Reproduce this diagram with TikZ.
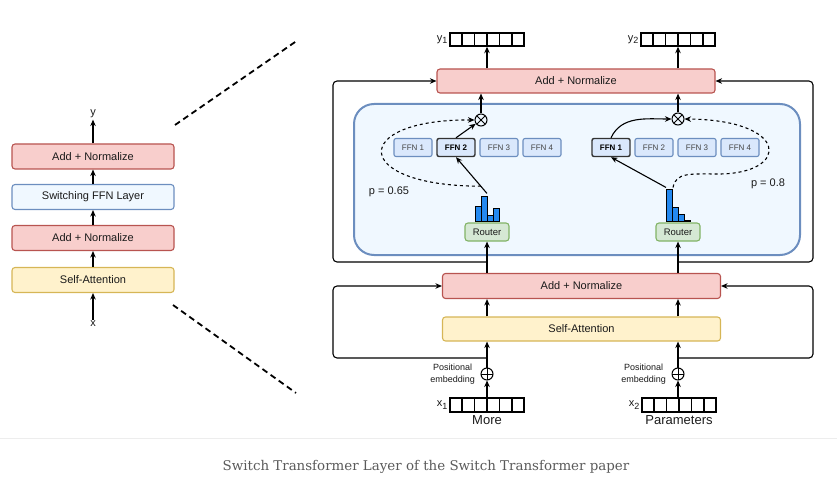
\documentclass[tikz,border=0pt]{standalone}
\usepackage{fontspec}
\setmainfont{Liberation Sans}
\newfontfamily\capfont{DejaVu Serif}
\usetikzlibrary{arrows.meta,positioning,calc}
\definecolor{redfill}{HTML}{F8CECC}
\definecolor{redline}{HTML}{B85450}
\definecolor{yelfill}{HTML}{FFF2CC}
\definecolor{yelline}{HTML}{D6B656}
\definecolor{bluefill}{HTML}{DAE8FC}
\definecolor{blueline}{HTML}{6C8EBF}
\definecolor{lightbg}{HTML}{F0F8FF}
\definecolor{grnfill}{HTML}{D5E8D4}
\definecolor{grnline}{HTML}{82B366}
\definecolor{barblue}{HTML}{2489F0}
\definecolor{txt}{HTML}{1A1A1A}
\definecolor{ffntxt}{HTML}{444444}
\definecolor{selline}{HTML}{333333}
\definecolor{capgray}{HTML}{5A5A5A}

\begin{document}
\begin{tikzpicture}[x=1pt,y=-1pt,>={Stealth[length=6.5pt,width=5.5pt]},line width=1.1pt,
an/.style={draw=redline,fill=redfill,rounded corners=3pt,line width=1.1pt,font=\fontsize{11}{13}\selectfont,text=txt},
sw/.style={draw=blueline,fill=lightbg,rounded corners=3pt,line width=1.1pt,font=\fontsize{11}{13}\selectfont,text=txt},
sa/.style={draw=yelline,fill=yelfill,rounded corners=3pt,line width=1.1pt,font=\fontsize{11}{13}\selectfont,text=txt},
lw/.style={minimum width=162,minimum height=25,inner sep=0},
rw/.style={minimum width=278,minimum height=24,inner sep=0},
ffn/.style={draw=blueline,fill=bluefill,rounded corners=2pt,line width=1.1pt,minimum width=38,minimum height=18,inner sep=0,font=\fontsize{8}{9}\selectfont,text=ffntxt},
sel/.style={ffn,draw=selline,line width=1.4pt,font=\fontsize{8}{9}\selectfont\bfseries,text=black},
rt/.style={draw=grnline,fill=grnfill,rounded corners=3pt,line width=1.1pt,minimum width=44,minimum height=18,inner sep=0,font=\fontsize{9.5}{11}\selectfont,text=txt},
vec/.style={draw,line width=1.4pt,minimum width=74,minimum height=13,inner sep=0},
ot/.style={circle,draw,fill=lightbg,minimum size=12,inner sep=0,line width=1pt,
  path picture={\draw (path picture bounding box.north west)--(path picture bounding box.south east)
  (path picture bounding box.north east)--(path picture bounding box.south west);}},
op/.style={circle,draw,fill=white,minimum size=12,inner sep=0,line width=1pt,
  path picture={\draw (path picture bounding box.north)--(path picture bounding box.south)
  (path picture bounding box.east)--(path picture bounding box.west);}},
bar/.style={draw,fill=barblue,line width=0.8pt},
lab/.style={font=\fontsize{11}{13}\selectfont,text=txt,inner sep=1pt},
zm/.style={line width=1.8pt,dash pattern=on 6pt off 4pt}]
\useasboundingbox (0,0) rectangle (837,481);

% left: compact layer
\node[an,lw] (lan2) at (93,156.5) {Add + Normalize};
\node[sw,lw] (lsw) at (93,197) {Switching FFN Layer};
\node[an,lw] (lan1) at (93,238) {Add + Normalize};
\node[sa,lw] (lsa) at (93,280) {Self-Attention};
\node[lab] (ly) at (93,114) {y};
\node[lab] (lx) at (93,324) {x};
\draw[->] (lx) -- (lsa);
\draw[->] (lsa) -- (lan1);
\draw[->] (lan1) -- (lsw);
\draw[->] (lsw) -- (lan2);
\draw[->] (lan2) -- (ly);
\coordinate (z1) at (175,125);
\coordinate (z2) at (298,40);
\coordinate (z3) at (173,305);
\coordinate (z4) at (296,393);
\draw[zm] (z1) -- (z2);
\draw[zm] (z3) -- (z4);

% right: expert layer
\node[draw=blueline,fill=lightbg,rounded corners=20pt,line width=2pt,minimum width=446,minimum height=151] (moe) at (577,179.5) {};
\node[an,rw] (tan) at (576,81) {Add + Normalize};
\node[an,rw,minimum height=25] (ban) at (581.5,286) {Add + Normalize};
\node[sa,rw] (bsa) at (581.5,329) {Self-Attention};

\node[vec] (y1v) at (487,39.5) {};
\node[vec] (y2v) at (678,39.5) {};
\node[vec,minimum height=14] (x1v) at (487,405) {};
\node[vec,minimum height=14] (x2v) at (679,405) {};
\foreach \v in {y1v,y2v,x1v,x2v}{
  \foreach \i in {1,...,5}{\draw[line width=1.4pt] ($(\v.south west)!\i/6!(\v.south east)$) -- ($(\v.north west)!\i/6!(\v.north east)$);}}
\node[lab,left=0pt of y1v] (y1l) {y\textsubscript{\fontsize{9}{9}\selectfont 1}};
\node[lab,left=0pt of y2v] (y2l) {y\textsubscript{\fontsize{9}{9}\selectfont 2}};
\node[lab,left=0pt of x1v] (x1l) {x\textsubscript{\fontsize{9}{9}\selectfont 1}};
\node[lab,left=0pt of x2v] (x2l) {x\textsubscript{\fontsize{9}{9}\selectfont 2}};
\node[lab,font=\fontsize{13}{15}\selectfont,below=1pt of x1v] (w1) {More};
\node[lab,font=\fontsize{13}{15}\selectfont,below=1pt of x2v] (w2) {Parameters};

\node[op] (p1) at (487,374) {};
\node[op] (p2) at (678,374) {};
\node[left=4pt of p1,align=center,inner sep=1pt,font=\fontsize{9}{12}\selectfont,text=txt] (pe1) {Positional\\embedding};
\node[left=4pt of p2,align=center,inner sep=1pt,font=\fontsize{9}{12}\selectfont,text=txt] (pe2) {Positional\\embedding};

\node[ot] (m1) at (481,120) {};
\node[ot] (m2) at (678,119) {};
\foreach \i in {1,3,4}{\node[ffn] (fa\i) at (413+43*\i-43,147.5) {FFN \i};}
\node[sel] (fa2) at (456,147.5) {FFN 2};
\foreach \i in {2,3,4}{\node[ffn] (fb\i) at (611+43*\i-43,147.5) {FFN \i};}
\node[sel] (fb1) at (611,147.5) {FFN 1};
\node[rt] (r1) at (487,232) {Router};
\node[rt] (r2) at (678,232) {Router};
\foreach \k/\h in {0/15,1/25,2/6,3/13}{\draw[bar] ($(r1.north)+(-12+6*\k,-1)$) rectangle ++(6,-\h);}
\foreach \k/\h in {0/32,1/14,2/7,3/1}{\draw[bar] ($(r2.north)+(-12+6*\k,-1)$) rectangle ++(6,-\h);}
\node[lab] (pl1) at (389,192) {p = 0.65};
\node[lab] (pl2) at (768,184) {p = 0.8};

% routing
\coordinate (s1) at ($(r1.north)+(0,-29)$);
\coordinate (d1) at ($(s1)!0.2!(fa2.south)$);
\coordinate (s2) at ($(r2.north)+(-12,-35)$);
\coordinate (d2) at ($(r2.north)+(-5,-35)$);
\draw[->] (s1) -- (fa2.south);
\draw[->] (fa2.north) -- (m1);
\draw[->,dashed] (d1) .. controls (350,186) and (350,119) .. (m1.west);
\draw[->] (s2) -- (fb1.south);
\draw[->] (fb1.north) to[out=65,in=180] (m2.west);
\draw[->,dashed] (d2) .. controls (676,172) and (690,174) .. (720,174) .. controls (790,173) and (790,120) .. (m2.east);

% main flow
\draw[->] (x1v.north) -- (p1.south);
\draw[->] (x2v.north -| p2) -- (p2.south);
\draw[->] (p1.north) -- (p1 |- bsa.south);
\draw[->] (p2.north) -- (p2 |- bsa.south);
\draw[->] (bsa.north -| p1) -- (ban.south -| p1);
\draw[->] (bsa.north -| p2) -- (ban.south -| p2);
\draw[->] (ban.north -| r1) -- (r1.south);
\draw[->] (ban.north -| r2) -- (r2.south);
\draw[->] (m1.north) -- (tan.south -| m1);
\draw[->] (m2.north) -- (tan.south -| m2);
\draw[->] (tan.north -| y1v) -- (y1v.south);
\draw[->] (tan.north -| y2v) -- (y2v.south);

% residual loops
\coordinate (j1) at (487,358);
\coordinate (j2) at (678,358);
\coordinate (j3) at (487,262);
\coordinate (j4) at (678,262);
\draw[->,rounded corners=4pt] (j1) -| (333,286) -- (ban.west);
\draw[->,rounded corners=4pt] (j2) -| (813,286) -- (ban.east);
\draw[->,rounded corners=4pt] (j3) -| (333,81) -- (tan.west);
\draw[->,rounded corners=4pt] (j4) -| (813,81) -- (tan.east);

% caption
\draw[black!7,line width=1pt] (0,438) -- (837,438);
\node[font=\capfont\fontsize{13.4}{15}\selectfont,text=capgray] (cap) at (426,467) {Switch Transformer Layer of the Switch Transformer paper};
\end{tikzpicture}
\end{document}
